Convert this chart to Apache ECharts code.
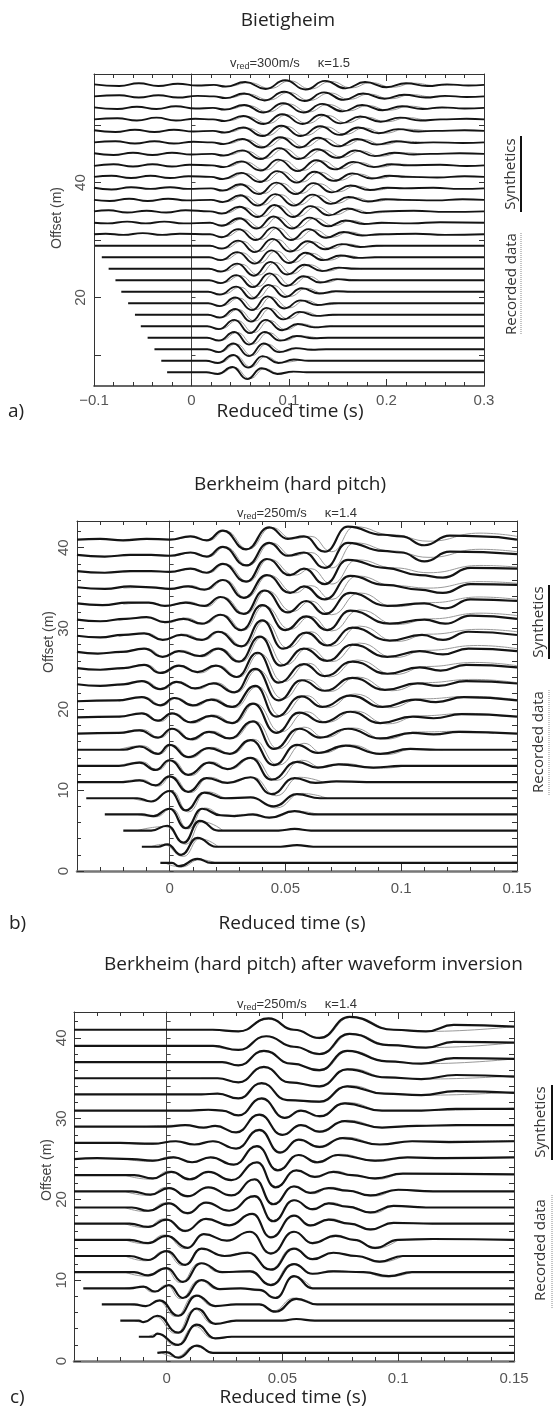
<!DOCTYPE html>
<html>
<head>
<meta charset="utf-8">
<script src="https://cdn.jsdelivr.net/npm/echarts@6.0.0/dist/echarts.min.js"></script>
<style>
  html, body { margin: 0; padding: 0; background: #fff; }
  #chart { width: 555px; height: 1412px; }
</style>
</head>
<body>
<div id="chart"></div>
<script>
// Wiggle traces: each trace is a flat list of knots [t (ms), amplitude (dm)],
// read off the picture at the extrema. Index 0 is the nearest offset (bottom trace).

// ---- a) Bietigheim ----
const offsetsA = [7, 9, 11, 13, 15, 17, 19, 21, 23, 25, 27, 29, 31, 33, 35, 37, 39, 41, 43, 45, 47, 49, 51, 53, 55, 57];
const synA = [
  [-25,0,15,0,27,-3,42,9,57,-12,72,7,88,-3,104,1,118,0,300,0],
  [-31,0,15,0,27,-4,43,10,58,-12,73,8,89,-4,105,2,120,0,300,0],
  [-38,0,16,0,28,-5,43,10,59,-12,74,10,90,-5,107,2,123,-1,138,0,300,0],
  [-45,0,16,0,28,-5,44,10,59,-12,75,10,91,-5,108,3,125,-1,140,0,300,0],
  [-52,0,16,0,28,-5,44,11,60,-12,76,11,93,-7,109,4,126,-2,142,0,300,0],
  [-58,0,17,0,29,-5,45,10,61,-12,77,12,94,-8,111,5,128,-2,145,0,300,0],
  [-65,0,17,0,29,-5,45,10,62,-12,78,12,95,-9,112,5,129,-3,146,0,300,0],
  [-72,0,17,0,29,-5,46,9,62,-12,79,12,96,-9,113,6,131,-3,148,1,164,0,300,0],
  [-78,0,18,0,30,-5,46,9,63,-12,80,12,97,-10,115,7,132,-4,149,2,166,0,300,0],
  [-85,0,18,0,30,-5,47,9,64,-12,81,12,98,-10,116,7,134,-4,151,2,168,0,300,0],
  [-92,0,18,0,30,-5,47,9,65,-11,82,12,100,-10,117,8,135,-5,153,3,171,-1,188,0,300,0],
  [-99,0,19,0,31,-5,48,9,65,-11,83,12,101,-10,119,8,137,-6,154,3,173,-2,190,0,300,0],
  [-100,0,-88,1,-70,-1,-50,2,-30,-1,-12,1,19,0,31,-5,48,9,66,-10,84,12,102,-10,120,9,138,-6,156,4,175,-2,193,0,230,1,260,-1,300,0],
  [-100,0,-86,-1,-66,2,-47,-1,-28,2,-8,-1,19,0,31,-5,49,8,67,-10,84,11,103,-10,121,9,140,-6,158,4,177,-2,195,0,225,-1,255,1,300,0],
  [-100,0,-85,2,-66,-2,-46,1,-26,-2,-6,2,19,0,31,-4,49,8,68,-10,85,11,104,-10,122,9,141,-7,160,5,179,-3,197,0,228,1,262,-1,300,0],
  [-100,0,-84,-2,-64,2,-45,-2,-24,2,-5,-1,20,0,32,-4,50,8,68,-10,86,10,105,-10,124,9,143,-7,161,5,181,-3,199,1,216,0,250,-1,278,1,300,0],
  [-100,1,-82,-2,-62,2,-42,-1,-22,2,-4,-1,20,0,32,-4,50,7,69,-10,87,10,107,-10,125,9,144,-7,163,5,183,-3,201,1,218,0,248,1,276,-1,300,0],
  [-100,0,-82,2,-62,-2,-42,2,-22,-2,-3,1,20,0,32,-4,51,7,70,-9,88,10,108,-10,126,9,146,-7,165,6,185,-3,203,2,220,0,252,-1,280,1,300,0],
  [-100,-1,-80,2,-60,-2,-40,2,-20,-2,-2,1,21,0,33,-3,51,7,71,-9,89,10,109,-10,128,9,147,-7,166,6,187,-3,205,2,222,0,255,1,282,-1,300,0],
  [-100,1,-80,-2,-60,2,-40,-2,-20,2,0,-1,21,0,33,-3,52,6,71,-9,90,10,110,-9,129,8,149,-7,168,6,188,-4,208,2,228,-1,245,0,275,1,300,0],
  [-100,0,-78,2,-58,-2,-38,2,-18,-2,2,1,21,0,33,-3,52,6,72,-9,91,9,111,-9,130,8,150,-7,170,6,190,-4,210,2,230,-1,248,0,278,-1,300,0],
  [-100,1,-78,-2,-58,2,-38,-2,-18,2,2,-1,22,0,34,-3,53,6,73,-9,92,9,112,-9,132,8,152,-7,171,6,192,-4,212,3,233,-1,250,0,280,1,300,0],
  [-100,0,-76,2,-56,-2,-36,3,-16,-2,4,1,22,0,34,-3,53,6,74,-8,93,9,114,-8,133,8,153,-7,173,5,194,-4,214,3,235,-2,255,0,282,1,300,0],
  [-100,1,-76,-2,-56,2,-36,-2,-16,3,4,-1,22,0,34,-3,54,5,74,-8,94,8,115,-8,134,7,155,-6,175,5,196,-4,216,3,237,-2,257,1,280,-1,300,0],
  [-100,0,-74,2,-54,-2,-34,2,-14,-2,6,1,23,0,35,-3,54,5,75,-7,95,8,116,-8,136,7,156,-6,176,5,198,-4,218,3,240,-2,260,1,282,-1,300,0],
  [-100,1,-74,-2,-54,3,-34,-2,-14,2,6,-1,23,0,35,-3,55,5,76,-7,96,8,117,-8,137,7,158,-6,178,5,200,-4,220,3,242,-2,262,1,284,-1,300,0]
];
const recA = [
  [15,0,29,-2,44,8,60,-11,75,6,90,-2,104,0],
  [15,0,30,-3,45,9,61,-11,76,7,92,-3,108,0],
  [16,0,30,-4,46,9,62,-11,77,9,94,-4,110,1,124,0],
  [16,0,31,-4,47,9,63,-11,79,9,95,-5,112,3,128,0],
  [16,0,31,-4,47,10,64,-11,80,10,97,-6,113,4,130,-1,145,0],
  [17,0,32,-4,48,9,65,-11,81,11,99,-7,116,5,133,-2,150,0],
  [17,0,32,-4,49,9,66,-11,82,11,100,-8,117,5,134,-3,152,0],
  [18,0,33,-4,50,8,67,-11,84,11,101,-8,118,6,136,-3,153,1,168,0],
  [18,0,33,-4,50,8,68,-11,85,11,102,-9,120,7,137,-4,155,2,172,0],
  [18,0,34,-4,51,8,69,-11,86,11,103,-9,121,7,139,-4,157,2,175,0],
  [19,0,34,-4,51,8,70,-10,87,11,105,-9,123,7,141,-5,159,3,177,-1,195,0],
  [19,0,35,-4,52,8,70,-10,88,11,106,-9,125,7,143,-5,160,3,179,-2,197,0],
  [20,0,35,-4,52,8,71,-9,89,11,107,-9,126,8,144,-5,162,4,181,-2,200,0],
  [20,0,35,-4,53,7,72,-9,89,10,108,-9,127,8,146,-5,164,4,183,-2,202,0],
  [20,0,35,-3,53,7,73,-9,90,10,109,-9,128,8,147,-6,166,4,185,-3,205,0],
  [21,0,36,-3,54,7,73,-9,91,9,110,-9,130,8,149,-6,167,4,187,-3,207,1,225,0],
  [21,0,36,-3,54,6,74,-9,92,9,112,-9,131,8,150,-6,169,4,189,-3,209,1,228,0],
  [21,0,36,-3,55,6,75,-8,93,9,113,-9,132,8,152,-6,171,5,191,-3,211,2,230,0],
  [22,0,37,-2,55,6,76,-8,94,9,114,-9,134,8,153,-6,172,5,193,-3,213,2,232,0],
  [22,0,37,-2,56,5,76,-8,95,9,115,-8,135,7,155,-6,174,5,194,-4,216,2,235,0],
  [22,0,37,-2,56,5,77,-8,96,8,116,-8,136,7,156,-6,176,5,196,-4,218,2,238,0],
  [23,0,38,-2,57,5,78,-8,97,8,117,-8,138,7,158,-6,177,5,198,-4,220,3,241,0],
  [23,0,38,-2,57,5,79,-7,98,8,119,-7,139,7,159,-6,179,4,200,-4,222,3,243,-1,260,0],
  [23,0,38,-2,58,4,79,-7,99,7,120,-7,140,6,161,-5,181,4,202,-4,224,3,245,-1,262,0],
  [24,0,39,-2,58,4,80,-6,100,7,121,-7,142,6,162,-5,182,4,204,-4,226,3,248,-1,265,0],
  [24,0,39,-2,59,4,81,-6,101,7,122,-7,143,6,164,-5,184,4,206,-4,228,3,250,-1,268,0]
];

// ---- b) Berkheim (hard pitch) ----
const offsetsB = [1, 3, 5, 7, 9, 11, 13, 15, 17, 19, 21, 23, 25, 27, 29, 31, 33, 35, 37, 39, 41];
const synB = [
  [-4,0,1,0,4,-4,12,5,18,0,150,0],
  [-12,0,-5,0,-1,3,5,-10,12,11,20,0,48,0,55,2,62,0,150,0],
  [-20,0,-8,0,-1,6,6,-15,13,12,21,0,47,0,54,2,61,0,150,0],
  [-28,0,-12,0,-7,-2,0,7,7,-17,14,7,22,-1,28,-2,36,0,43,-4,54,4,62,0,150,0],
  [-36,0,-14,0,-8,-4,0,9,7,-15,15,7,24,0,35,1,45,-10,55,5,65,0,150,0],
  [-40,0,-20,0,-13,2,-6,-4,0,7,8,-12,16,5,25,-1,35,6,44,-15,54,5,63,-1,72,1,85,0,150,0],
  [-40,0,-22,0,-13,4,-6,-5,0,7,8,-11,17,4,25,-4,35,10,44,-17,55,5,64,-2,73,2,88,-2,100,0,150,0],
  [-40,0,-20,0,-13,4,-5,-5,0,6,8,-9,17,2,26,-5,35,12,45,-19,55,6,64,-4,76,5,91,-5,104,1,115,0,150,0],
  [-40,0,-22,1,-13,4,-5,-5,1,6,9,-7,17,2,26,-6,36,15,45,-19,56,6,65,-5,77,6,91,-6,105,1,114,-1,125,2,150,0],
  [-40,0,-22,1,-12,5,-5,-4,1,5,9,-6,18,2,27,-7,36,17,46,-19,56,6,66,-6,78,7,91,-7,105,1,114,-1,126,4,150,1],
  [-40,0,-23,1,-12,5,-4,-5,2,4,10,-5,18,2,27,-7,37,19,46,-19,57,6,66,-7,78,7,92,-7,106,2,115,-1,127,5,150,1],
  [-40,1,-30,-1,-20,1,-12,5,-4,-5,3,4,11,-4,19,2,28,-9,37,20,47,-19,57,6,67,-7,79,9,93,-6,107,2,116,-1,128,5,150,2],
  [-40,1,-30,-1,-20,1,-11,5,-4,-5,4,4,12,-4,20,4,29,-10,38,20,47,-17,58,6,67,-9,79,9,94,-6,108,2,117,-2,128,5,150,2],
  [-40,1,-31,-1,-21,1,-11,5,-3,-5,4,2,13,-4,21,5,30,-11,39,20,48,-16,58,5,68,-10,79,10,94,-5,108,2,118,-2,129,5,150,2],
  [-40,1,-30,-1,-20,2,-11,4,-3,-4,5,2,14,-4,21,6,31,-12,40,20,49,-15,59,5,68,-11,79,11,95,-5,109,2,118,-4,129,6,150,2],
  [-40,1,-30,-1,-19,2,-10,4,-2,-2,6,2,14,-4,22,7,31,-12,40,19,50,-12,59,5,68,-12,78,12,95,-4,110,1,119,-4,130,6,150,2],
  [-40,1,-29,-1,-18,2,-9,2,-2,-2,7,2,15,-2,22,9,32,-12,41,17,51,-10,59,4,67,-12,78,14,94,-2,110,1,119,-5,130,6,150,4],
  [-40,1,-28,-1,-17,2,-8,1,0,-1,8,2,15,-2,23,10,32,-12,42,16,52,-6,58,2,67,-14,78,15,93,4,108,-2,118,-6,130,5,150,4],
  [-40,1,-28,-1,-17,1,-8,1,0,0,9,4,16,-1,23,10,33,-12,42,16,52,-4,58,4,67,-15,77,15,93,5,108,-4,118,-7,130,5,150,4],
  [-40,1,-28,-1,-17,1,-8,1,0,0,9,4,16,-1,23,11,33,-12,43,16,51,0,58,4,67,-15,77,16,92,6,100,4,110,-7,121,5,150,2],
  [-40,0,-30,1,-20,-1,-10,1,0,0,9,4,16,-1,23,11,33,-12,43,15,51,1,58,4,67,-15,77,16,92,6,100,4,110,-7,121,5,134,4,150,0]
];
const recB = [
  [-2,0,5,-5,13,4,20,0],
  [-8,0,-3,3,6,-12,13,10,21,0],
  [-14,0,-2,5,7,-17,14,11,23,0],
  [-14,0,-6,-3,1,7,8,-18,15,8,24,-2,32,0,44,-4,55,4,64,0],
  [-16,0,-8,-4,1,9,8,-17,16,8,26,0,35,1,46,-12,57,6,68,0],
  [-22,0,-12,3,-5,-5,1,7,9,-13,17,6,26,-1,36,6,46,-17,56,6,66,0],
  [-22,0,-12,5,-5,-5,1,7,9,-12,18,5,26,-4,36,10,46,-18,57,7,66,-2,75,3,90,-3,102,0],
  [-22,0,-12,5,-4,-5,1,6,9,-10,18,3,27,-5,36,13,47,-19,58,8,66,-4,78,6,93,-6,106,1,118,0],
  [-22,0,-12,5,-4,-5,2,6,10,-8,18,3,27,-6,37,15,47,-19,58,8,67,-5,79,7,93,-7,107,2,128,3,140,0],
  [-22,0,-11,5,-4,-5,2,5,10,-7,19,3,28,-7,37,17,48,-18,59,7,68,-6,80,8,94,-8,108,2,129,5,145,1],
  [-22,0,-11,5,-3,-5,3,4,11,-6,19,3,28,-8,38,18,48,-18,59,7,68,-8,80,9,95,-8,109,3,130,6,150,2],
  [-22,0,-11,5,-3,-5,4,4,12,-5,20,3,29,-9,38,19,49,-17,59,7,69,-8,81,10,96,-7,110,3,131,7,150,3],
  [-22,0,-10,5,-3,-5,5,4,13,-5,21,4,30,-10,39,19,49,-16,60,7,69,-10,81,11,97,-7,111,3,132,8,150,4],
  [-22,0,-10,5,-2,-5,5,3,14,-5,22,5,31,-11,40,19,50,-15,60,6,70,-11,82,12,97,-6,111,3,133,9,150,5],
  [-22,0,-10,4,-2,-4,6,3,15,-4,22,6,32,-12,41,19,51,-14,61,6,70,-12,82,13,98,-6,112,3,134,9,150,6],
  [-22,0,-9,4,-1,-3,7,3,15,-4,23,7,32,-12,41,18,52,-11,61,5,70,-13,82,13,98,-5,113,2,134,9,150,6],
  [-20,0,-8,2,-1,-2,8,3,16,-3,23,9,33,-12,42,17,53,-9,61,4,70,-13,82,14,97,-3,113,2,134,9,150,6],
  [-20,0,-7,1,1,-1,9,3,16,-2,24,10,33,-12,43,16,54,-6,61,3,70,-14,81,15,97,3,112,0,134,8,150,6],
  [-20,0,-7,1,1,0,10,4,17,-1,24,10,34,-12,43,16,54,-4,61,4,70,-15,81,15,97,5,112,-1,134,8,150,6],
  [-20,0,-7,1,1,0,10,4,17,-1,24,11,34,-12,44,16,53,0,61,4,70,-15,80,16,96,6,112,-2,134,8,150,5],
  [-20,0,-9,1,1,0,10,4,17,-1,24,11,34,-12,44,15,53,1,61,4,70,-15,80,16,96,6,112,-2,134,8,150,4]
];

// ---- c) Berkheim (hard pitch) after waveform inversion ----
const offsetsC = [1, 3, 5, 7, 9, 11, 13, 15, 17, 19, 21, 23, 25, 27, 29, 31, 33, 35, 37, 39, 41];
const synC = [
  [-4,0,0,1,5,-6,13,9,20,0,150,0],
  [-12,0,-6,0,-4,4,5,-10,13,15,21,-2,28,0,150,0],
  [-20,0,-12,0,-10,-2,-4,6,5,-15,13,15,21,-4,30,0,50,0,56,2,64,0,150,0],
  [-28,0,-14,0,-9,-2,-3,5,5,-14,13,11,21,-2,30,0,40,0,47,-9,56,7,65,0,150,0],
  [-36,0,-16,0,-10,2,-5,-4,1,4,7,-12,15,10,23,-1,32,0,40,-2,47,-12,55,15,63,0,75,0,150,0],
  [-40,0,-14,0,-8,-4,0,5,7,-12,15,11,24,0,36,1,45,-16,55,10,63,-2,72,1,85,0,96,-5,106,0,150,0],
  [-40,0,-16,0,-8,-5,0,6,8,-11,15,9,25,0,35,4,45,-17,55,9,63,-4,72,4,82,0,92,-7,102,0,150,0],
  [-40,0,-16,0,-8,-4,0,5,9,-10,16,7,26,-1,36,10,45,-17,55,10,63,-4,73,5,81,0,90,-10,100,0,115,1,150,0],
  [-40,0,-16,0,-8,-4,0,5,8,-9,17,6,27,-2,37,12,45,-17,55,10,62,-2,70,5,79,0,88,-7,98,1,115,0,150,0],
  [-40,0,-15,0,-8,-4,1,5,9,-7,17,6,27,-4,38,14,46,-17,55,9,63,-2,70,5,78,1,88,-6,98,2,112,0,150,0],
  [-40,0,-15,0,-7,-4,1,4,9,-6,18,5,28,-5,38,15,46,-16,55,6,62,-2,70,4,78,1,88,-5,100,2,115,0,150,0],
  [-40,0,-14,0,-6,-4,2,4,10,-5,18,4,28,-6,39,16,47,-15,56,6,64,-2,72,4,80,0,90,-4,102,2,150,1],
  [-40,0,-30,1,-15,0,-6,-2,3,2,11,-4,19,2,29,-7,39,16,48,-14,57,5,65,-4,74,5,90,-2,104,2,120,1,150,2],
  [-40,0,-20,0,-6,-1,4,2,12,-2,20,2,30,-7,40,16,49,-12,57,4,66,-5,76,6,92,-2,106,2,122,1,150,2],
  [-40,0,-20,0,0,0,8,2,16,-1,21,1,30,-7,40,15,50,-10,58,2,66,-6,77,7,93,-1,108,1,125,2,150,2],
  [-40,0,10,0,18,1,24,0,31,-6,41,15,51,-9,58,0,66,-7,77,9,93,0,110,0,125,2,150,2],
  [-40,0,15,0,22,1,31,-5,41,14,52,-7,66,-9,78,10,94,1,110,-1,125,4,150,2],
  [-40,0,15,0,22,0,31,-5,42,14,53,-5,66,-10,78,11,95,1,110,-1,125,4,150,2],
  [-40,0,18,0,24,0,31,-4,42,14,54,-2,66,-10,78,14,95,1,110,-2,124,5,150,4],
  [-40,0,20,0,31,-5,43,12,55,-1,66,-10,79,15,96,1,112,-2,124,5,150,4],
  [-40,0,20,0,31,-2,44,14,55,0,66,-10,79,16,98,0,112,-2,124,6,150,4]
];
const recC = [
  [-2,0,4,-5,12,8,19,0],
  [-8,0,-4,3,4,-11,12,13,20,-2,28,0],
  [-14,0,-10,-2,-5,5,4,-16,12,14,20,-4,30,0],
  [-16,0,-9,-2,-4,5,4,-15,12,11,20,-2,30,0,40,0,46,-8,55,8,64,0],
  [-18,0,-11,2,-6,-5,0,4,6,-13,14,10,22,-1,32,0,40,-3,47,-11,55,14,63,0],
  [-18,0,-9,-5,-1,5,6,-13,14,11,23,0,36,2,45,-15,54,10,63,-2,72,2,84,0,95,-6,106,0],
  [-18,0,-9,-6,-1,6,7,-12,15,9,25,0,35,5,45,-16,54,9,63,-4,72,4,82,0,92,-8,102,0],
  [-18,0,-9,-5,-1,6,8,-11,16,7,26,-1,36,10,45,-16,55,10,63,-5,73,6,81,0,90,-11,100,0],
  [-18,0,-9,-5,-1,6,8,-10,17,6,27,-2,37,12,45,-16,55,10,62,-3,71,6,79,0,88,-8,98,1,115,0],
  [-18,0,-9,-5,0,6,9,-8,17,6,27,-4,38,13,46,-16,55,9,63,-3,71,6,79,1,89,-7,99,2,112,0],
  [-18,0,-8,-5,0,5,9,-7,18,5,28,-5,38,14,46,-15,55,7,63,-3,71,5,79,1,89,-6,101,2,115,0],
  [-18,0,-7,-5,1,5,10,-6,18,4,28,-6,39,15,47,-14,56,6,64,-3,73,5,81,0,91,-5,103,2,150,1],
  [-18,0,-7,-3,2,3,11,-4,19,2,29,-7,39,15,48,-13,57,5,65,-5,75,6,91,-3,105,2,150,2],
  [-18,0,-7,-2,3,2,12,-2,20,2,30,-7,40,15,49,-11,57,4,66,-6,77,7,93,-2,107,2,150,3],
  [-10,0,8,2,16,-1,21,1,30,-7,40,14,50,-10,58,2,66,-7,78,8,94,-1,109,1,150,3],
  [10,0,18,1,24,0,31,-6,41,14,51,-9,58,0,66,-8,78,10,94,0,110,0,150,3],
  [15,0,22,1,31,-5,41,13,52,-7,66,-10,79,11,95,1,111,-1,150,3],
  [15,0,22,0,31,-5,42,13,53,-5,66,-11,79,12,96,1,111,-1,150,3],
  [18,0,24,0,31,-4,42,13,54,-2,66,-11,79,14,96,1,111,-2,150,4],
  [20,0,31,-5,43,12,55,-1,66,-11,80,15,97,1,113,-2,150,4],
  [20,0,31,-2,44,13,55,0,66,-11,80,16,99,0,113,-2,150,4]
];

// ---- ticks and labels ----
const xMajorA = [-0.1, 0, 0.1, 0.2, 0.3];
const xMinorA = [-0.08, -0.06, -0.04, -0.02, 0.02, 0.04, 0.06, 0.08, 0.12, 0.14, 0.16, 0.18, 0.22, 0.24, 0.26, 0.28];
const yMajorA = [10, 20, 30, 40, 50];
const yLabelA = [20, 40];
const xMajorBC = [0, 0.05, 0.1, 0.15];
const xMinorBC = [-0.03, -0.02, -0.01, 0.01, 0.02, 0.03, 0.04, 0.06, 0.07, 0.08, 0.09, 0.11, 0.12, 0.13, 0.14];
const yMajorBC = [0, 10, 20, 30, 40];
const yMinorBC = [2, 4, 6, 8, 12, 14, 16, 18, 22, 24, 26, 28, 32, 34, 36, 38, 42];

const panels = [
  { syn: synA, rec: recA, offsets: offsetsA,
    grid: { left: 94, top: 74, width: 390, height: 312 },
    x: [-0.1, 0.3], y: [4.6, 58.9],
    xMajor: xMajorA, xMinor: xMinorA, yMajor: yMajorA, yMinor: [], yLabels: yLabelA,
    rightTicks: yMajorA, zeroTicks: yMajorA, xMargin: 7, yMargin: 6,
    bottomLine: { color: '#333', width: 1.6 }, synWidth: 1.9 },
  { syn: synB, rec: recB, offsets: offsetsB,
    grid: { left: 77, top: 521, width: 440, height: 350 },
    x: [-0.04, 0.15], y: [0, 43.3],
    xMajor: xMajorBC, xMinor: xMinorBC, yMajor: yMajorBC, yMinor: yMinorBC, yLabels: yMajorBC,
    rightTicks: yMinorBC.concat(yMajorBC), zeroTicks: yMinorBC.concat(yMajorBC), xMargin: 10, yMargin: 6,
    bottomLine: { color: '#777', width: 2.5 }, synWidth: 2.2 },
  { syn: synC, rec: recC, offsets: offsetsC,
    grid: { left: 74, top: 1012, width: 440, height: 349 },
    x: [-0.04, 0.15], y: [0, 43.2],
    xMajor: xMajorBC, xMinor: xMinorBC, yMajor: yMajorBC, yMinor: yMinorBC, yLabels: yMajorBC,
    rightTicks: yMinorBC.concat(yMajorBC), zeroTicks: yMinorBC.concat(yMajorBC), xMargin: 10, yMargin: 5,
    bottomLine: { color: '#777', width: 2.5 }, synWidth: 2.2 }
];

const tickFont = 'Liberation Sans';
const fmtX = v => (v < 0 ? '\u2212' + String(-v) : String(v));

const grids = [], xAxes = [], yAxes = [], series = [];

panels.forEach((p, k) => {
  grids.push(p.grid);

  const xBase = { gridIndex: k, type: 'value', min: p.x[0], max: p.x[1],
    splitLine: { show: false }, axisLabel: { show: false } };
  xAxes.push({ ...xBase, position: 'bottom',
    axisLine: { onZero: false, lineStyle: p.bottomLine },
    axisTick: { inside: true, length: 7, customValues: p.xMajor, lineStyle: { color: '#333' } },
    axisLabel: { show: true, customValues: p.xMajor, formatter: fmtX, color: '#555',
      fontSize: 15, fontFamily: tickFont, margin: p.xMargin } });
  xAxes.push({ ...xBase, position: 'bottom', axisLine: { show: false, onZero: false },
    axisTick: { inside: true, length: 4, customValues: p.xMinor, lineStyle: { color: '#333' } } });
  xAxes.push({ ...xBase, position: 'top',
    axisLine: { onZero: false, lineStyle: { color: '#333', width: 1 } },
    axisTick: { inside: true, length: 7, customValues: p.xMajor, lineStyle: { color: '#333' } } });
  xAxes.push({ ...xBase, position: 'top', axisLine: { show: false, onZero: false },
    axisTick: { inside: true, length: 4, customValues: p.xMinor, lineStyle: { color: '#333' } } });

  const yBase = { gridIndex: k, type: 'value', min: p.y[0], max: p.y[1],
    splitLine: { show: false }, axisLabel: { show: false } };
  yAxes.push({ ...yBase, position: 'left',
    axisLine: { onZero: false, lineStyle: { color: '#333', width: 1 } },
    axisTick: { inside: true, length: 7, customValues: p.yMajor, lineStyle: { color: '#333' } },
    axisLabel: { show: true, customValues: p.yLabels, rotate: 90, color: '#555',
      fontSize: 15, fontFamily: tickFont, margin: p.yMargin } });
  yAxes.push({ ...yBase, position: 'left', axisLine: { show: false, onZero: false },
    axisTick: { show: p.yMinor.length > 0, inside: true, length: 4, customValues: p.yMinor,
      lineStyle: { color: '#333' } } });
  yAxes.push({ ...yBase, position: 'right',
    axisLine: { onZero: false, lineStyle: { color: '#333', width: 1 } },
    axisTick: { inside: true, length: 5, customValues: p.rightTicks, lineStyle: { color: '#333' } } });
  // thin vertical line at reduced time 0, with its own small ticks
  yAxes.push({ ...yBase, position: 'left',
    axisLine: { onZero: true, lineStyle: { color: '#444', width: 1 } },
    axisTick: { inside: true, length: 4, customValues: p.zeroTicks, lineStyle: { color: '#444' } } });

  const toPoints = (knots, off) => {
    const pts = [];
    for (let i = 0; i < knots.length; i += 2) pts.push([knots[i] / 1000, off + knots[i + 1] / 10]);
    return pts;
  };
  p.rec.forEach((knots, i) => {
    series.push({ type: 'line', xAxisIndex: 4 * k, yAxisIndex: 4 * k, data: toPoints(knots, p.offsets[i]),
      smooth: 0.5, smoothMonotone: 'x', symbol: 'none', silent: true, z: 2, clip: true,
      lineStyle: { color: '#9a9a9a', width: 1 }, emphasis: { disabled: true } });
  });
  p.syn.forEach((knots, i) => {
    series.push({ type: 'line', xAxisIndex: 4 * k, yAxisIndex: 4 * k, data: toPoints(knots, p.offsets[i]),
      smooth: 0.5, smoothMonotone: 'x', symbol: 'none', silent: true, z: 3, clip: true,
      lineStyle: { color: '#141414', width: p.synWidth }, emphasis: { disabled: true } });
  });
});

// ---- text and legend decorations ----
const txt = (x, y, text, size, family, opts = {}) => ({
  type: 'text', x, y, rotation: opts.rot || 0, silent: true,
  style: { text, fontSize: size, fontFamily: family, fill: opts.fill || '#222',
    align: opts.align || 'center', verticalAlign: 'middle' }
});
const subtitle = (x, y, v, kappa) => ({
  type: 'text', x, y, silent: true,
  style: {
    text: '{m|v}{s|red}{m|=' + v + 'm/s     \u03ba=' + kappa + '}',
    align: 'center', verticalAlign: 'middle',
    rich: {
      m: { fontSize: 13, fontFamily: tickFont, fill: '#333' },
      s: { fontSize: 9, fontFamily: tickFont, fill: '#333', padding: [7, 0, 0, 0] }
    }
  }
});
const vline = (x, y1, y2, stroke, width, dash) => ({
  type: 'line', silent: true, shape: { x1: x, y1, x2: x, y2 },
  style: { stroke, lineWidth: width, lineDash: dash || null }
});
const rot = Math.PI / 2;

const graphic = [
  txt(288, 21, 'Bietigheim', 19, 'Open Sans'),
  subtitle(290, 63, '300', '1.5'),
  txt(290, 412, 'Reduced time (s)', 19, 'Open Sans'),
  txt(8, 412, 'a)', 19, 'Open Sans', { align: 'left' }),
  txt(57, 218, 'Offset (m)', 14, tickFont, { rot, fill: '#444' }),
  txt(511, 174, 'Synthetics', 15, 'Open Sans', { rot, fill: '#333' }),
  txt(512, 284, 'Recorded data', 15, 'Open Sans', { rot, fill: '#333' }),
  vline(521, 136, 212, '#111', 2),
  vline(521, 233, 334, '#888', 1, [1, 1]),

  txt(290, 485, 'Berkheim (hard pitch)', 19, 'Open Sans'),
  subtitle(297, 513, '250', '1.4'),
  txt(292, 924, 'Reduced time (s)', 19, 'Open Sans'),
  txt(9, 924, 'b)', 19, 'Open Sans', { align: 'left' }),
  txt(49, 642, 'Offset (m)', 14, tickFont, { rot, fill: '#444' }),
  txt(539, 622, 'Synthetics', 15, 'Open Sans', { rot, fill: '#333' }),
  txt(539, 742, 'Recorded data', 15, 'Open Sans', { rot, fill: '#333' }),
  vline(549, 585, 659, '#111', 2),
  vline(549, 690, 795, '#888', 1, [1, 1]),

  txt(104, 965, 'Berkheim (hard pitch) after waveform inversion', 19, 'Open Sans', { align: 'left' }),
  subtitle(297, 1004, '250', '1.4'),
  txt(293, 1398, 'Reduced time (s)', 19, 'Open Sans'),
  txt(10, 1398, 'c)', 19, 'Open Sans', { align: 'left' }),
  txt(47, 1170, 'Offset (m)', 14, tickFont, { rot, fill: '#444' }),
  txt(541, 1122, 'Synthetics', 15, 'Open Sans', { rot, fill: '#333' }),
  txt(541, 1250, 'Recorded data', 15, 'Open Sans', { rot, fill: '#333' }),
  vline(552, 1085, 1160, '#111', 2),
  vline(552, 1195, 1308, '#888', 1, [1, 1])
];

const chart = echarts.init(document.getElementById('chart'), null, { renderer: 'canvas' });
chart.setOption({
  backgroundColor: '#ffffff',
  animation: false,
  grid: grids,
  xAxis: xAxes,
  yAxis: yAxes,
  series,
  graphic
});
</script>
</body>
</html>
